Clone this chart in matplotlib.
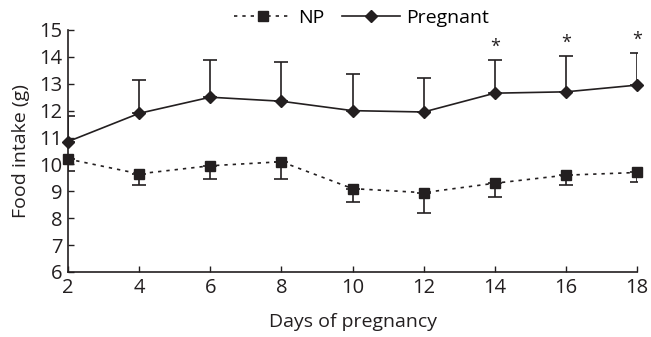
import matplotlib.pyplot as plt

# days of pregnancy and food intake (g)
days = [2, 4, 6, 8, 10, 12, 14, 16, 18]
np_mean = [10.2, 9.65, 9.95, 10.1, 9.1, 8.95, 9.3, 9.6, 9.7]
np_err = [0.45, 0.4, 0.5, 0.65, 0.5, 0.75, 0.5, 0.35, 0.35]
preg_mean = [10.85, 11.9, 12.5, 12.35, 12.0, 11.95, 12.65, 12.7, 12.95]
preg_err = [0.95, 1.25, 1.4, 1.45, 1.35, 1.25, 1.25, 1.35, 1.2]
star_days = [14, 16, 18]

plt.rcParams['font.family'] = ['Open Sans', 'DejaVu Sans']

fig = plt.figure(figsize=(6.51, 3.37), dpi=100)
ax = fig.add_axes([0.1045, 0.193, 0.874, 0.718])

# error bars: NP only downward, pregnant only upward
ax.errorbar(days, np_mean, yerr=[np_err, [0] * len(days)], fmt='none',
            ecolor='#231f20', elinewidth=1.2, capsize=5, capthick=1.2)
ax.errorbar(days, preg_mean, yerr=[[0] * len(days), preg_err], fmt='none',
            ecolor='#231f20', elinewidth=1.2, capsize=5, capthick=1.2)

ax.plot(days, np_mean, linestyle=(0, (2, 3)), color='#231f20', lw=1.2,
        marker='s', markersize=7.5, label='NP', clip_on=False)
ax.plot(days, preg_mean, linestyle='-', color='#231f20', lw=1.2,
        marker='D', markersize=6.5, label='Pregnant', clip_on=False)

for d in star_days:
    i = days.index(d)
    ax.text(d, preg_mean[i] + preg_err[i] + 0.15, '*', ha='center', va='bottom',
            fontsize=13, color='#231f20')

ax.set_xlim(2, 18)
ax.set_ylim(6, 15)
ax.set_xticks(days)
ax.set_yticks(range(6, 16))
ax.tick_params(direction='in', length=4, width=1, labelsize=14.5, colors='#231f20', pad=4)
for side in ['top', 'right']:
    ax.spines[side].set_visible(False)
for side in ['left', 'bottom']:
    ax.spines[side].set_color('#231f20')
    ax.spines[side].set_linewidth(1.2)

ax.set_xlabel('Days of pregnancy', fontsize=14, color='#231f20', labelpad=11)
ax.set_ylabel('Food intake (g)', fontsize=14, color='#231f20', labelpad=7)

fig.legend(loc='upper center', bbox_to_anchor=(0.555, 1.025), ncol=2, frameon=False,
           fontsize=14, handlelength=3.0, handletextpad=0.3, columnspacing=0.9)

fig.savefig('out.png', dpi=100)
